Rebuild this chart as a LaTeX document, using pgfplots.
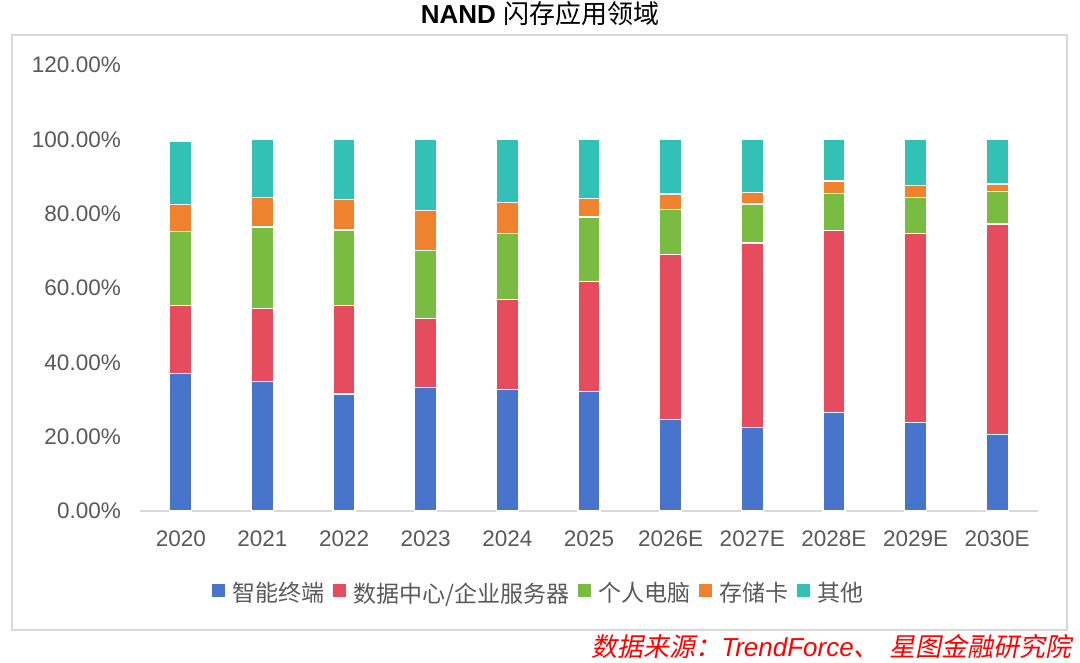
\documentclass[border=0pt]{standalone}
\usepackage{fontspec}
\setmainfont{Liberation Sans}
\newfontfamily\cjk{Noto Sans CJK SC}
\newfontfamily\cjksl{Noto Sans CJK SC}[FakeSlant=0.2]
\usepackage{pgfplots}
\usepackage{pgfplotstable}
\pgfplotsset{compat=1.18}
\definecolor{cblue}{RGB}{72,116,203}
\definecolor{cred}{RGB}{229,76,94}
\definecolor{cgreen}{RGB}{122,187,66}
\definecolor{corange}{RGB}{238,130,47}
\definecolor{cteal}{RGB}{50,193,180}
\definecolor{tgray}{RGB}{89,89,89}
\definecolor{fgray}{RGB}{217,217,217}
\pgfplotstableread{
x blue red green orange teal
0 36.9 18.5 19.7 7.4 17.0
1 34.8 19.6 22.0 8.0 15.6
2 31.5 23.9 20.2 8.2 16.2
3 33.2 18.6 18.3 10.8 19.1
4 32.6 24.2 17.8 8.4 17.0
5 32.1 29.7 17.3 5.0 15.9
6 24.7 44.3 12.2 4.1 14.7
7 22.4 49.7 10.5 3.1 14.3
8 26.6 48.8 10.0 3.4 11.2
9 23.9 50.7 9.8 3.1 12.5
10 20.5 56.7 8.8 2.0 12.0
}\datatable
\begin{document}
\begin{tikzpicture}
\path[use as bounding box] (0pt,0pt) rectangle (1080pt,-662pt);
\draw[fgray, line width=1.5pt] (12pt,-35pt) rectangle (1067pt,-630pt);
\node[font=\fontsize{26}{30}\selectfont, anchor=center] at (540pt,-14pt) {{\bfseries NAND} {\cjk 闪存应用领域}};
\node[font=\fontsize{26}{30}\selectfont, text=red, anchor=base east, inner sep=0pt] at (1072pt,-656pt) {\cjksl 数据来源：{\itshape\rmfamily TrendForce}\cjksl 、\hspace{10pt}星图金融研究院};
\begin{axis}[
  at={(140pt,-511pt)}, anchor=south west,
  width=898pt, height=446pt, scale only axis,
  ybar stacked, bar width=22pt,
  xmin=-0.5, xmax=10.5, ymin=0, ymax=120,
  axis x line*=bottom, axis y line*=left,
  y axis line style={draw=none},
  x axis line style={draw=fgray, line width=1.5pt},
  major tick length=0pt, tick style={draw=none},
  xtick={0,...,10},
  xticklabels={2020,2021,2022,2023,2024,2025,2026E,2027E,2028E,2029E,2030E},
  ytick={0,20,40,60,80,100,120},
  yticklabels={0.00\%,20.00\%,40.00\%,60.00\%,80.00\%,100.00\%,120.00\%},
  tick label style={font=\fontsize{22.5}{27}\selectfont, text=tgray},
  yticklabel style={inner sep=0pt, xshift=-19pt},
  xticklabel style={inner sep=0pt, yshift=-20pt},
  legend columns=-1,
  legend style={at={(0.4443,-0.1839)}, anchor=center, draw=none, fill=none,
    font=\cjk\fontsize{23}{27}\selectfont, text=tgray,
    /tikz/every odd column/.append style={column sep=5pt},
    /tikz/every even column/.append style={column sep=7pt}},
  legend image code/.code={\fill[#1,draw=none] (0pt,-4pt) rectangle (13pt,9pt);},
]
\addplot[fill=cblue, draw=white, line width=1.2pt] table[x=x,y=blue]{\datatable};
\addplot[fill=cred, draw=white, line width=1.2pt] table[x=x,y=red]{\datatable};
\addplot[fill=cgreen, draw=white, line width=1.2pt] table[x=x,y=green]{\datatable};
\addplot[fill=corange, draw=white, line width=1.2pt] table[x=x,y=orange]{\datatable};
\addplot[fill=cteal, draw=white, line width=1.2pt] table[x=x,y=teal]{\datatable};
\legend{智能终端,数据中心/企业服务器,个人电脑,存储卡,其他}
\end{axis}
\end{tikzpicture}
\end{document}
